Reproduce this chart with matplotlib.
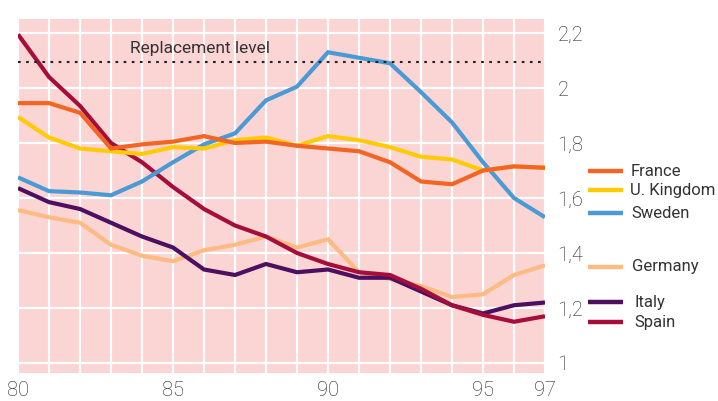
import numpy as np
import matplotlib.pyplot as plt
from matplotlib.ticker import FixedLocator

plt.rcParams['font.family'] = ['Roboto', 'DejaVu Sans']

years = np.arange(1980, 1998)

france = [1.945, 1.945, 1.91, 1.78, 1.795, 1.805, 1.825, 1.80, 1.805, 1.79,
          1.78, 1.77, 1.73, 1.66, 1.65, 1.70, 1.715, 1.71]
uk = [1.895, 1.82, 1.78, 1.77, 1.76, 1.785, 1.78, 1.81, 1.82, 1.79,
      1.825, 1.81, 1.785, 1.75, 1.74, 1.70, 1.715, 1.71]
sweden = [1.675, 1.625, 1.62, 1.61, 1.66, 1.73, 1.795, 1.835, 1.955, 2.005,
          2.13, 2.11, 2.09, 1.985, 1.875, 1.73, 1.60, 1.53]
germany = [1.556, 1.53, 1.51, 1.43, 1.39, 1.37, 1.41, 1.43, 1.46, 1.42,
           1.45, 1.33, 1.305, 1.28, 1.24, 1.25, 1.32, 1.355]
italy = [1.636, 1.585, 1.56, 1.51, 1.46, 1.42, 1.34, 1.32, 1.36, 1.33,
         1.34, 1.31, 1.31, 1.26, 1.21, 1.18, 1.21, 1.22]
spain = [2.195, 2.04, 1.935, 1.80, 1.73, 1.64, 1.56, 1.50, 1.46, 1.40,
         1.36, 1.33, 1.32, 1.27, 1.21, 1.175, 1.15, 1.17]

replacement = 2.095

x_ticks = [1980, 1985, 1990, 1995, 1997]
x_labels = ['80', '85', '90', '95', '97']
y_ticks = [1.0, 1.2, 1.4, 1.6, 1.8, 2.0, 2.2]
y_labels = ['1', '1,2', '1,4', '1,6', '1,8', '2', '2,2']

# drawing order: bottom first
series = [
    ('Germany', germany, '#fdbb84'),
    ('Italy', italy, '#4d0f60'),
    ('Spain', spain, '#a50e3b'),
    ('Sweden', sweden, '#4a9bd5'),
    ('U. Kingdom', uk, '#ffcb05'),
    ('France', france, '#f26522'),
]

text_col = '#333333'
W, H = 718, 401
fig = plt.figure(figsize=(W / 100, H / 100), dpi=100)
ax = fig.add_axes([18 / W, 1 - 373 / H, 527 / W, 354 / H])
ax.set_facecolor('#fbd4d4')

ax.set_xlim(1980, 1997)
ax.set_ylim(1.0 - 10 / 275, 2.2 + 14 / 275)

ax.set_xticks(x_ticks)
ax.set_xticklabels(x_labels)
ax.xaxis.set_minor_locator(FixedLocator(list(years)))
ax.yaxis.tick_right()
ax.set_yticks(y_ticks)
ax.set_yticklabels(y_labels)
ax.grid(which='both', color='white', linewidth=1.6)
ax.set_axisbelow(True)
ax.tick_params(axis='both', which='both', length=0, labelsize=14.5, colors='#222222')
ax.tick_params(axis='x', pad=6)
ax.tick_params(axis='y', pad=9)
for lab in ax.get_xticklabels() + ax.get_yticklabels():
    lab.set_fontweight('light')
for s in ax.spines.values():
    s.set_visible(False)

for name, vals, col in series:
    ax.plot(years, vals, color=col, linewidth=3.0, solid_joinstyle='miter',
            solid_capstyle='butt', zorder=3)

ax.axhline(replacement, color='#222222', linewidth=1.5,
           linestyle=(0, (1.3, 2.6)), zorder=4)
ax.text(1983.6, 2.145, 'Replacement level', fontsize=12.5, color=text_col,
        va='center', ha='left', zorder=5)

# legend in pixel coordinates on an overlay
ov = fig.add_axes([0, 0, 1, 1], facecolor='none')
ov.set_xlim(0, W)
ov.set_ylim(H, 0)
ov.axis('off')
legend_pos = {
    'France': (171, 631),
    'U. Kingdom': (190, 630),
    'Sweden': (213, 631),
    'Germany': (267, 632),
    'Italy': (302, 635),
    'Spain': (322, 634),
}
for name, vals, col in series:
    yy, tx = legend_pos[name]
    ov.plot([588, 623], [yy, yy], color=col, linewidth=3.2, solid_capstyle='butt')
    ov.text(tx, yy, name, fontsize=12, color=text_col, va='center', ha='left')

fig.savefig('out.png', dpi=100)
